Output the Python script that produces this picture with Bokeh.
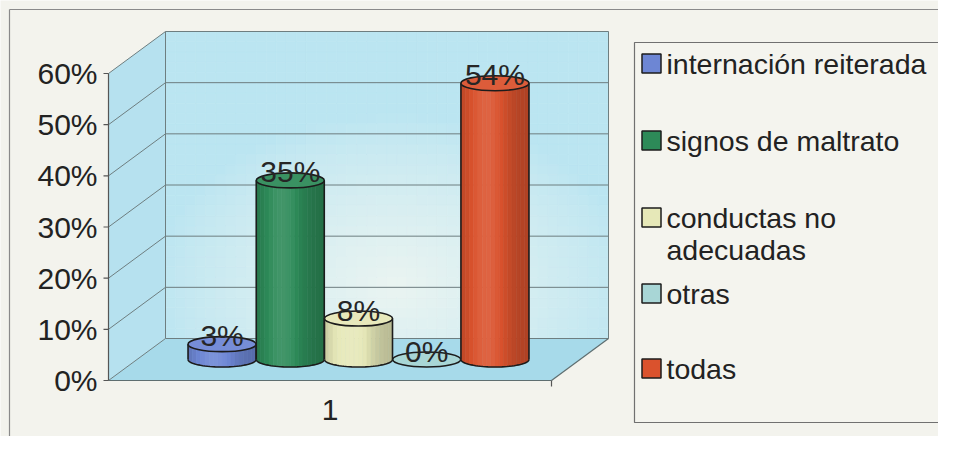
import numpy as np
from bokeh.plotting import figure
from bokeh.models import Range1d
from bokeh.embed import file_html
from bokeh.resources import INLINE
from bokeh.core.properties import value

# ---------------- data ----------------
categories = ["1"]
series = ["internación reiterada", "signos de maltrato", "conductas no adecuadas", "otras", "todas"]
values = [3, 35, 8, 0, 54]
value_labels = ["3%", "35%", "8%", "0%", "54%"]
legend_lines = [["internación reiterada"], ["signos de maltrato"], ["conductas no", "adecuadas"], ["otras"], ["todas"]]
y_ticks = [0, 10, 20, 30, 40, 50, 60]
y_tick_labels = ["0%", "10%", "20%", "30%", "40%", "50%", "60%"]
colors = ["#6d86d4", "#2d8a58", "#e6e8b8", "#a8d6d6", "#da522d"]

# ---------------- geometry (pixels -> data) ----------------
W, H = 938, 436
PXU = 443.0           # pixels per category unit
PXV = 307.0 / 60.0    # pixels per percent
X0 = 108.0            # canvas x of category start
Y0 = 380.0            # canvas y of 0 %

def pu(px):
    return (px - X0) / PXU

def pv(py):
    return (Y0 - py) / PXV

DX = 57.0 / PXU
DY = 42.0 / PXV
MDX, MDY = DX / 2, DY / 2
SPACING = 0.154
A = 34.0 / PXU        # cylinder half width
B = 7.5 / PXV         # ellipse half height
YMAX = 60
FS = "30px"
LFS = "28.5px"

p = figure(width=W, height=H, x_range=Range1d(-X0 / PXU, (W - X0) / PXU),
           y_range=Range1d((Y0 - H) / PXV, Y0 / PXV),
           output_backend="svg", toolbar_location=None,
           x_axis_location=None, y_axis_location=None, min_border=0)
p.grid.visible = False
p.outline_line_color = None
p.background_fill_color = "#f3f3ed"
p.border_fill_color = "#f3f3ed"

FONT = value("Liberation Sans")

def hex2rgb(h):
    h = h.lstrip("#")
    return np.array([int(h[i:i + 2], 16) for i in (0, 2, 4)], dtype=float)

def rgb2hex(c):
    c = np.clip(np.round(c), 0, 255).astype(int)
    return "#%02x%02x%02x" % tuple(c)

def shade(h, f):
    c = hex2rgb(h)
    if f <= 1:
        return rgb2hex(c * f)
    return rgb2hex(c + (255 - c) * (f - 1))

# outer frame lines (top, left)
p.segment(x0=[pu(9), pu(9)], y0=[pv(9), pv(9)], x1=[pu(960), pu(9)], y1=[pv(9), pv(460)],
          line_color="#8a8a8a", line_width=1.2)

# ---------------- back wall with soft gradient ----------------
cyan = hex2rgb("#bbe5f1")
white = hex2rgb("#eaf4f1")
nx, ny = 44, 30
xs_edges = np.linspace(DX, 1 + DX, nx + 1)
ys_edges = np.linspace(DY, YMAX + DY, ny + 1)
L, R_, T, Bm, C = [], [], [], [], []
cxp, cyp = pu(395), pv(285)
for i in range(nx):
    for j in range(ny):
        xm = (xs_edges[i] + xs_edges[i + 1]) / 2
        ym = (ys_edges[j] + ys_edges[j + 1]) / 2
        d = np.sqrt(((xm - cxp) * PXU / 240) ** 2 + ((ym - cyp) * PXV / 170) ** 2)
        w = np.clip(1 - d, 0, 1) ** 0.8
        L.append(xs_edges[i]); R_.append(xs_edges[i + 1])
        Bm.append(ys_edges[j]); T.append(ys_edges[j + 1])
        C.append(rgb2hex(cyan + (white - cyan) * w))
p.quad(left=L, right=R_, bottom=Bm, top=T, fill_color=C, line_color=C, line_width=0.6)

# side wall
p.patch(x=[0, DX, DX, 0], y=[0, DY, YMAX + DY, YMAX], fill_color="#b6e1ef", line_color=None)
# floor
p.patch(x=[0, 1, 1 + DX, DX], y=[0, 0, DY, DY], fill_color="#a7daea", line_color=None)

GRID = "#6e7e80"
# back wall gridlines
p.segment(x0=[DX] * len(y_ticks), y0=[t + DY for t in y_ticks],
          x1=[1 + DX] * len(y_ticks), y1=[t + DY for t in y_ticks], line_color=GRID, line_width=1)
# side wall diagonals
p.segment(x0=[0] * len(y_ticks), y0=y_ticks, x1=[DX] * len(y_ticks), y1=[t + DY for t in y_ticks],
          line_color=GRID, line_width=1)
# wall verticals
p.segment(x0=[DX, 1 + DX], y0=[DY, DY], x1=[DX, 1 + DX], y1=[YMAX + DY, YMAX + DY],
          line_color=GRID, line_width=1)
# floor edges
p.segment(x0=[0, 1], y0=[0, 0], x1=[1, 1 + DX], y1=[0, DY], line_color="#5e6e70", line_width=1.2)
p.segment(x0=[1], y0=[0], x1=[1], y1=[-6 / PXV], line_color="#555555", line_width=1.2)
# front value axis
p.segment(x0=[0], y0=[0], x1=[0], y1=[YMAX], line_color="#555555", line_width=1.2)
p.segment(x0=[-5 / PXU] * len(y_ticks), y0=y_ticks, x1=[0] * len(y_ticks), y1=y_ticks,
          line_color="#555555", line_width=1.2)

# ---------------- cylinders ----------------
NS = 16
OUT = "#1c1c1c"
for i, (v, col) in enumerate(zip(values, colors)):
    cx = 0.5 + (i - 2) * SPACING + MDX
    yb = MDY
    yt = v + MDY
    if v > 0:
        pxs, pys, pcs = [], [], []
        for k in range(NS):
            t0, t1 = k / NS, (k + 1) / NS
            xa, xb = cx - A + 2 * A * t0, cx - A + 2 * A * t1
            bx = np.linspace(xb, xa, 5)
            by = yb - B * np.sqrt(np.clip(1 - ((bx - cx) / A) ** 2, 0, 1))
            pxs.append([xa, xb] + list(bx))
            pys.append([yt, yt] + list(by))
            tm = (t0 + t1) / 2
            f = 0.80 + 0.30 * np.exp(-((tm - 0.38) / 0.32) ** 2)
            pcs.append(shade(col, f))
        p.patches(xs=pxs, ys=pys, fill_color=pcs, line_color=pcs, line_width=0.6)
        th = np.linspace(0, np.pi, 40)
        p.line(x=cx + A * np.cos(th), y=yb - B * np.sin(th), line_color=OUT, line_width=1.6)
        p.segment(x0=[cx - A, cx + A], y0=[yb, yb], x1=[cx - A, cx + A], y1=[yt, yt],
                  line_color=OUT, line_width=1.6)
        p.ellipse(x=[cx], y=[yt], width=[2 * A], height=[2 * B], fill_color=shade(col, 1.06),
                  line_color=OUT, line_width=1.6)
    else:
        p.ellipse(x=[cx], y=[yb], width=[2 * A], height=[2 * B], fill_color=col,
                  line_color=OUT, line_width=1.6)

# value labels
lx = [0.5 + (i - 2) * SPACING + MDX for i in range(len(values))]
ly = [v + MDY + 8.5 / PXV for v in values]
p.text(x=lx, y=ly, text=value_labels, text_font=FONT, text_font_size=FS,
       text_align="center", text_baseline="middle", text_color="#262626")

# tick labels
p.text(x=[pu(97)] * len(y_ticks), y=y_ticks, text=y_tick_labels, text_font=FONT,
       text_font_size=FS, text_align="right", text_baseline="middle", text_color="#222222")
# category label
p.text(x=[0.5], y=[pv(409)], text=categories, text_font=FONT, text_font_size=FS,
       text_align="center", text_baseline="middle", text_color="#222222")

# ---------------- legend ----------------
p.quad(left=[pu(634)], right=[pu(990)], top=[pv(42)], bottom=[pv(422)],
       fill_color="#f4f4ee", line_color="#707070", line_width=1.2)
entry_y = [63, 140, 217, 293, 368]
line_gap = 32
p.scatter(x=[pu(651)] * len(series), y=[pv(y) for y in entry_y], marker="square", size=19,
          fill_color=colors, line_color="#1c1c1c", line_width=1.5)
tx, ty, tt = [], [], []
for y, lines in zip(entry_y, legend_lines):
    for j, s in enumerate(lines):
        tx.append(pu(666)); ty.append(pv(y + j * line_gap)); tt.append(s)
p.text(x=tx, y=ty, text=tt, text_font=FONT, text_font_size=LFS,
       text_align="left", text_baseline="middle", text_color="#222222")

open("out.html", "w").write(file_html(p, INLINE))
